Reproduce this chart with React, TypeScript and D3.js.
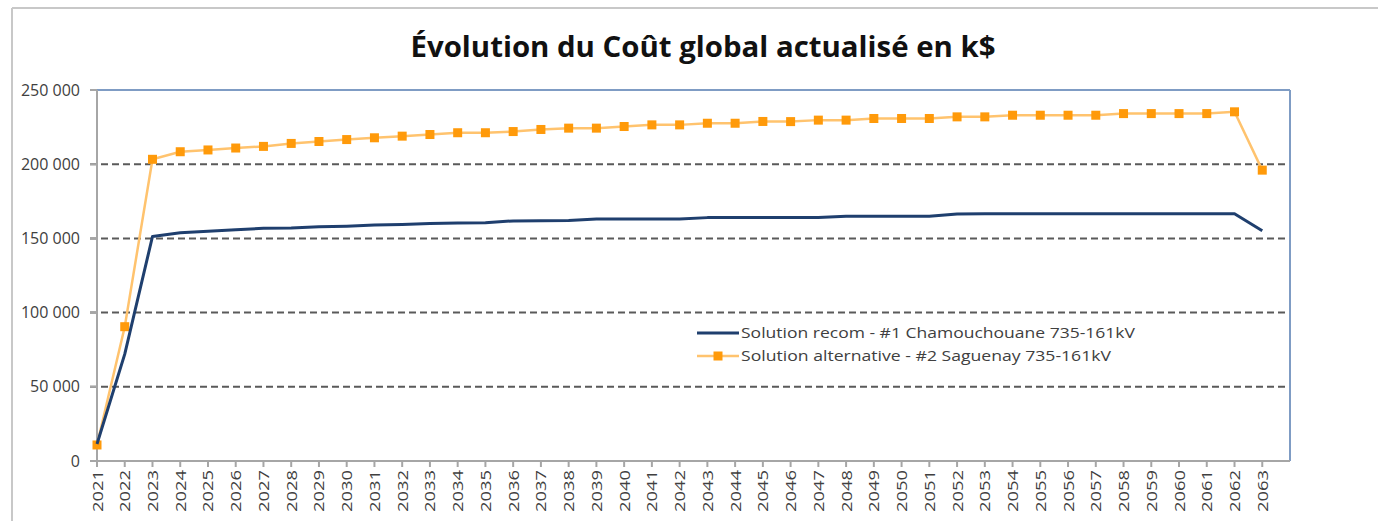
import { scaleLinear, line } from "d3";

const years: number[] = [];
for (let y = 2021; y <= 2063; y++) years.push(y);

const yTicks = [0, 50000, 100000, 150000, 200000, 250000];

// Solution recom - #1 Chamouchouane 735-161kV
const recom = [
  11500, 72000, 151300, 153800, 154800, 155800, 156800, 157000, 157800, 158200,
  159000, 159300, 160000, 160300, 160600, 161800, 161900, 162000, 163000, 163100,
  163100, 163100, 164000, 164000, 164000, 164100, 164100, 165000, 165000, 165000,
  165000, 166500, 166600, 166600, 166600, 166600, 166600, 166600, 166600, 166600,
  166600, 166600, 155200,
];

// Solution alternative - #2 Saguenay 735-161kV
const alternative = [
  10800, 90500, 203300, 208400, 209600, 210900, 212000, 214000, 215300, 216600,
  217800, 218900, 220000, 221200, 221200, 222000, 223400, 224300, 224300, 225400,
  226500, 226500, 227600, 227600, 228800, 228700, 229700, 229700, 230800, 230800,
  230800, 231900, 231900, 233000, 233000, 233000, 233000, 234100, 234100, 234100,
  234100, 235300, 196000,
];

const seriesNames = [
  "Solution recom - #1 Chamouchouane 735-161kV",
  "Solution alternative - #2 Saguenay 735-161kV",
];

const W = 1378;
const H = 521;
const left = 97;
const right = 1290;
const top = 90;
const bottom = 461;

const fmt = (v: number) =>
  v === 0 ? "0" : `${Math.floor(v / 1000)} ${String(v % 1000).padStart(3, "0")}`;

export default function App() {
  const x = scaleLinear().domain([2021, 2064]).range([left, right]);
  const y = scaleLinear().domain([0, 250000]).range([bottom, top]);

  const mk = line<number>()
    .x((_, i) => x(years[i]))
    .y((d) => y(d));

  const font = "'Open Sans', 'DejaVu Sans', sans-serif";

  return (
    <svg
      width={W}
      height={H}
      style={{ position: "absolute", left: 0, top: 0, background: "#fff" }}
      fontFamily={font}
    >
      {/* chart frame */}
      <line x1={12} y1={8} x2={W} y2={8} stroke="#c8c8c8" strokeWidth={2} />
      <line x1={12} y1={8} x2={12} y2={H} stroke="#c8c8c8" strokeWidth={2} />

      <text
        x={703}
        y={57}
        textAnchor="middle"
        fontSize={28}
        fontWeight="bold"
        fill="#111"
        textLength={585}
        lengthAdjust="spacingAndGlyphs"
      >
        Évolution du Coût global actualisé en k$
      </text>

      {/* gridlines */}
      {yTicks
        .filter((t) => t > 0 && t < 250000)
        .map((t) => (
          <line
            key={t}
            x1={90}
            x2={right}
            y1={y(t)}
            y2={y(t)}
            stroke="#5a5a5a"
            strokeWidth={2}
            strokeDasharray="7 4"
          />
        ))}

      {/* plot border top / right */}
      <line x1={left} x2={right} y1={top} y2={top} stroke="#7f9cc4" strokeWidth={2} />
      <line x1={right} x2={right} y1={top} y2={bottom} stroke="#7f9cc4" strokeWidth={2} />

      {/* y axis */}
      <line x1={left} x2={left} y1={top} y2={bottom} stroke="#a6a6a6" strokeWidth={2} />
      {yTicks.map((t) => (
        <g key={t}>
          <line x1={90} x2={left} y1={y(t)} y2={y(t)} stroke="#a6a6a6" strokeWidth={2} />
          <text
            x={80}
            y={y(t) + 5.5}
            textAnchor="end"
            fontSize={16}
            fill="#404040"
          >
            {fmt(t)}
          </text>
        </g>
      ))}

      {/* x axis */}
      <line x1={left - 7} x2={right} y1={bottom} y2={bottom} stroke="#a6a6a6" strokeWidth={2} />
      {years.map((yr) => (
        <g key={yr} transform={`translate(${x(yr)},${bottom})`}>
          <line y1={0} y2={6} stroke="#a6a6a6" strokeWidth={2} />
          <text
            transform="rotate(-90)"
            x={-9}
            y={5.5}
            textAnchor="end"
            fontSize={15}
            fill="#404040"
            textLength={42}
            lengthAdjust="spacingAndGlyphs"
          >
            {yr}
          </text>
        </g>
      ))}

      {/* series */}
      <path d={mk(alternative) ?? ""} fill="none" stroke="#ffc36e" strokeWidth={2.5} />
      {alternative.map((v, i) => (
        <rect
          key={i}
          x={x(years[i]) - 4.5}
          y={y(v) - 4.5}
          width={9}
          height={9}
          fill="#ff9a0a"
        />
      ))}
      <path
        d={mk(recom) ?? ""}
        fill="none"
        stroke="#1f3f6e"
        strokeWidth={3}
        strokeLinejoin="round"
      />

      {/* legend */}
      <g transform="translate(697,333)">
        <line x1={0} x2={42} y1={0} y2={0} stroke="#1f3f6e" strokeWidth={3} />
        <text x={44} y={5} fontSize={15} fill="#404040" textLength={394} lengthAdjust="spacingAndGlyphs">
          {seriesNames[0]}
        </text>
        <g transform="translate(0,23)">
          <line x1={0} x2={42} y1={0} y2={0} stroke="#ffc36e" strokeWidth={2.5} />
          <rect x={16.5} y={-4.5} width={9} height={9} fill="#ff9a0a" />
          <text x={44} y={5} fontSize={15} fill="#404040" textLength={370} lengthAdjust="spacingAndGlyphs">
            {seriesNames[1]}
          </text>
        </g>
      </g>
    </svg>
  );
}
